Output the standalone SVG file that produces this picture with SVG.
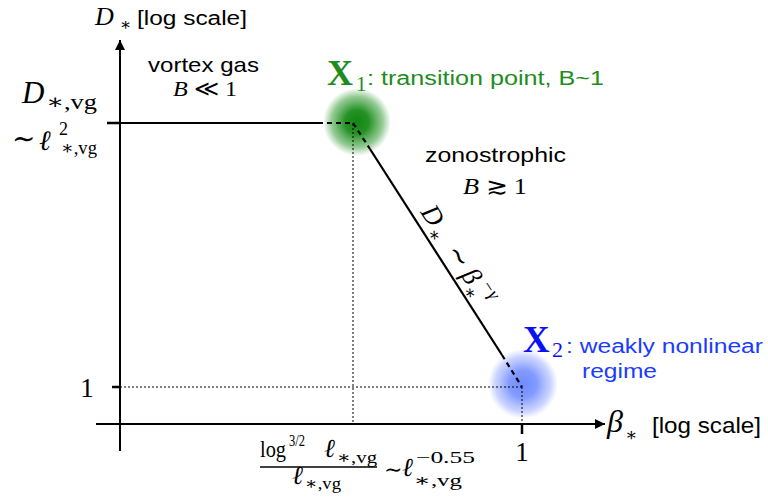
<svg xmlns="http://www.w3.org/2000/svg" width="768" height="503" viewBox="0 0 768 503">
<style>
.sans{font-family:"Liberation Sans",Arial,sans-serif;}
.serif{font-family:"Liberation Serif","DejaVu Serif",serif;}
.it{font-style:italic;}
.ax{stroke:#000;stroke-width:2;fill:none;}
.tick{stroke:#000;stroke-width:2.5;fill:none;}
.dot{stroke:#000;stroke-width:1;stroke-dasharray:2 2;fill:none;}
.dash{stroke:#000;stroke-width:2.2;stroke-dasharray:5 4;fill:none;}
.solid{stroke:#000;stroke-width:2.2;fill:none;}
.green{fill:#1e8c1e;}
.blue{fill:#1a3cff;}
.bluex{fill:#0a10f5;}
</style>
<defs>
<marker id="arr" viewBox="0 0 10 10" refX="10" refY="5" markerWidth="11" markerHeight="10" orient="auto" markerUnits="userSpaceOnUse">
<path d="M0,0 L10,5 L0,10 z" fill="#000"/>
</marker>
<radialGradient id="gG">
<stop offset="0" stop-color="#108610" stop-opacity="1"/>
<stop offset="0.35" stop-color="#1a8c1a" stop-opacity="0.95"/>
<stop offset="0.75" stop-color="#2a962a" stop-opacity="0.5"/>
<stop offset="1" stop-color="#3aa03a" stop-opacity="0"/>
</radialGradient>
<radialGradient id="gB">
<stop offset="0" stop-color="#6f8cff" stop-opacity="1"/>
<stop offset="0.4" stop-color="#7590ff" stop-opacity="0.9"/>
<stop offset="0.8" stop-color="#8ea2ff" stop-opacity="0.45"/>
<stop offset="1" stop-color="#a0b0ff" stop-opacity="0"/>
</radialGradient>
</defs>

<g id="glow-X1"><circle cx="357" cy="122" r="34" fill="url(#gG)"/></g>
<g id="glow-X2"><circle cx="523" cy="384" r="35" fill="url(#gB)"/></g>

<g id="axes">
<line class="ax" x1="120" y1="451" x2="120" y2="40" marker-end="url(#arr)"/>
<line class="ax" x1="96" y1="424" x2="605" y2="424" marker-end="url(#arr)"/>
<line class="tick" x1="107" y1="123" x2="120" y2="123"/>
<line class="tick" x1="112" y1="387" x2="120" y2="387"/>
<line class="tick" x1="522" y1="424" x2="522" y2="434"/>
</g>

<g id="connectors">
<line class="dot" x1="353" y1="124" x2="353" y2="424"/>
<line class="dot" x1="120" y1="387" x2="522" y2="387"/>
<line class="dot" x1="522" y1="387" x2="522" y2="424"/>
<line class="solid" x1="107" y1="123" x2="318" y2="123"/>
<line class="dash" x1="318" y1="123" x2="353" y2="123"/>
<line class="dash" x1="353" y1="123" x2="370" y2="149"/>
<line class="solid" x1="370" y1="149" x2="502" y2="355"/>
<line class="dash" x1="502" y1="355" x2="522" y2="387"/>
</g>

<g id="y-axis-label">
<text class="serif it" x="95" y="25" font-size="26">D</text>
<text class="serif" x="120" y="30" font-size="17">∗</text>
<text class="sans" x="137" y="25" font-size="20" textLength="110" lengthAdjust="spacingAndGlyphs">[log scale]</text>
</g>

<g id="x-axis-label">
<text class="serif it" x="607" y="432" font-size="32">β</text>
<text class="serif" x="625" y="441" font-size="18">∗</text>
<text class="sans" x="652" y="433" font-size="22" textLength="109" lengthAdjust="spacingAndGlyphs">[log scale]</text>
</g>

<g id="vortex-gas">
<text class="sans" x="148" y="72" font-size="21" textLength="111" lengthAdjust="spacingAndGlyphs">vortex gas</text>
<text class="serif" x="205" y="96" font-size="22" text-anchor="middle" textLength="64" lengthAdjust="spacingAndGlyphs"><tspan class="it">B</tspan> ≪ 1</text>
</g>

<g id="zonostrophic">
<text class="sans" x="425" y="162" font-size="21" textLength="141" lengthAdjust="spacingAndGlyphs">zonostrophic</text>
<text class="serif" x="495" y="194" font-size="23" text-anchor="middle" textLength="64" lengthAdjust="spacingAndGlyphs"><tspan class="it">B</tspan> ≳ 1</text>
</g>

<g id="X1">
<text class="serif green" x="327" y="85" font-size="36" font-weight="bold">X</text>
<text class="serif green" x="356" y="91" font-size="21">1</text>
<text class="sans green" x="367" y="85" font-size="20" textLength="237" lengthAdjust="spacingAndGlyphs">: transition point, B~1</text>
</g>

<g id="X2">
<text class="serif bluex" x="523" y="352" font-size="37" font-weight="bold">X</text>
<text class="serif bluex" x="552" y="357" font-size="22">2</text>
<text class="sans blue" x="566" y="353" font-size="20" textLength="197" lengthAdjust="spacingAndGlyphs">: weakly nonlinear</text>
<text class="sans blue" x="582" y="378" font-size="20" textLength="75" lengthAdjust="spacingAndGlyphs">regime</text>
</g>

<g id="Dvg-label">
<text class="serif it" x="22" y="103" font-size="31">D</text>
<text class="serif" x="46" y="109" font-size="21" textLength="51" lengthAdjust="spacingAndGlyphs">∗,vg</text>
<text class="serif" x="12" y="148" font-size="28">∼</text>
<text class="serif it" x="39" y="150" font-size="28">ℓ</text>
<text class="serif" x="59" y="135" font-size="18">2</text>
<text class="serif" x="61" y="154" font-size="19" textLength="36" lengthAdjust="spacingAndGlyphs">∗,vg</text>
</g>

<g id="tick-labels">
<text class="serif" x="87" y="397" font-size="27" text-anchor="middle">1</text>
<text class="serif" x="522" y="461" font-size="27" text-anchor="middle">1</text>
</g>

<g id="beta-threshold-label">
<text class="serif" x="260" y="457" font-size="24" textLength="26" lengthAdjust="spacingAndGlyphs">log</text>
<text class="serif" x="289" y="446" font-size="16" textLength="16" lengthAdjust="spacingAndGlyphs">3/2</text>
<text class="serif it" x="324" y="457" font-size="26">ℓ</text>
<text class="serif" x="337" y="463" font-size="17" textLength="40" lengthAdjust="spacingAndGlyphs">∗,vg</text>
<line x1="260" y1="467" x2="377" y2="467" stroke="#000" stroke-width="1.3"/>
<text class="serif it" x="292" y="484" font-size="26">ℓ</text>
<text class="serif" x="305" y="489" font-size="17" textLength="36" lengthAdjust="spacingAndGlyphs">∗,vg</text>
<text class="serif" x="384" y="477" font-size="22">∼</text>
<text class="serif it" x="402" y="476" font-size="26">ℓ</text>
<text class="serif" x="416" y="463" font-size="16" textLength="59" lengthAdjust="spacingAndGlyphs">−0.55</text>
<text class="serif" x="414" y="486" font-size="17" textLength="48" lengthAdjust="spacingAndGlyphs">∗,vg</text>
</g>

<g id="slope-label" transform="translate(420,212) rotate(57.4)">
<text class="serif" font-size="27"><tspan class="it" x="0" y="0">D</tspan><tspan x="21" y="6" font-size="18">∗</tspan><tspan x="47" y="0">∼</tspan><tspan class="it" x="75" y="0">β</tspan><tspan x="89" y="7" font-size="18">∗</tspan><tspan x="95" y="-12" font-size="18">−</tspan><tspan class="it" x="106" y="-12" font-size="18">γ</tspan></text>
</g>
</svg>
